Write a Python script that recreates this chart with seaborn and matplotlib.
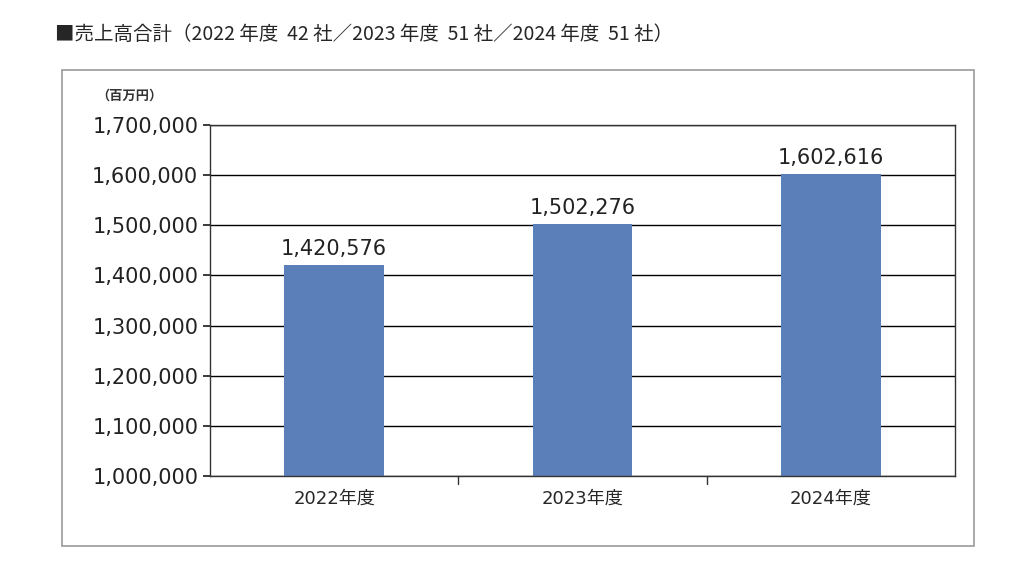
import numpy as np
import pandas as pd
import seaborn as sns
import matplotlib.pyplot as plt
from matplotlib.patches import Rectangle
from matplotlib.ticker import FuncFormatter

years = ['2022年度', '2023年度', '2024年度']
sales = [1420576, 1502276, 1602616]
df = pd.DataFrame({'year': years, 'sales': sales})

sns.set_theme(style='white')
plt.rcParams['font.family'] = ['DejaVu Sans', 'Noto Sans CJK JP']

fig = plt.figure(figsize=(10.24, 5.81), dpi=100)
ax = fig.add_axes([210 / 1024, 1 - 476 / 581, 745 / 1024, 351 / 581])

sns.barplot(data=df, x='year', y='sales', color='#5B80B9', width=0.4, saturation=1,
            linewidth=0, ax=ax)
ax.set_xlim(-0.5, 2.5)
ax.set_ylim(1000000, 1700000)
ax.set_yticks(np.arange(1000000, 1700001, 100000))
ax.yaxis.set_major_formatter(FuncFormatter(lambda v, p: f'{int(v):,}'))
ax.tick_params(axis='y', labelsize=15, length=5, direction='out', left=True, colors='#222222')
ax.tick_params(axis='x', labelsize=13, length=0, pad=10)
ax.set_xlabel('')
ax.set_ylabel('')
for s in ax.spines.values():
    s.set_color('#333333')
    s.set_linewidth(1)
ax.yaxis.grid(True, color='black', linewidth=1)
ax.set_axisbelow(True)
for i, v in enumerate(sales):
    ax.text(i, v + 12000, f'{v:,}', ha='center', va='bottom', fontsize=15, color='#222222')
# x ticks between categories
for xb in [0.5, 1.5]:
    ax.plot([xb, xb], [1000000, 985000], color='#333333', lw=1, clip_on=False)

fig.patches.append(Rectangle((62 / 1024, 1 - 546 / 581), 912 / 1024, 476 / 581,
                             transform=fig.transFigure, fill=False, ec='#999999', lw=1.2))
fig.text(96 / 1024, 1 - 96 / 581, '（百万円）', fontsize=9.5, va='center',
         family=['Noto Sans CJK JP'], fontweight='bold', color='#333333')
fig.text(55 / 1024, 1 - 35 / 581,
         '■売上高合計（2022 年度  42 社／2023 年度  51 社／2024 年度  51 社）',
         fontsize=14, va='center', family=['Noto Sans CJK JP'])

fig.savefig('out.png', dpi=100)
